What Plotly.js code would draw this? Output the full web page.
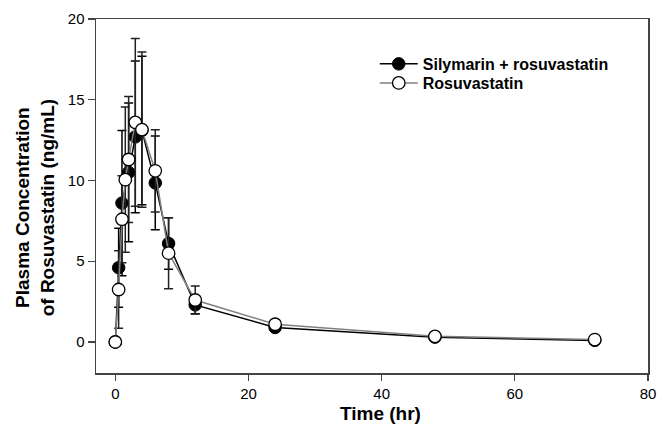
<!DOCTYPE html>
<html>
<head>
<meta charset="utf-8">
<script src="https://cdn.plot.ly/plotly-3.0.1.min.js"></script>
<style>html,body{margin:0;padding:0;background:#fff;}#chart{width:657px;height:424px;}</style>
</head>
<body>
<div id="chart"></div>
<script>
// Silymarin + rosuvastatin (filled circles)
const timeSR = [0, 0.5, 1, 2, 3, 4, 6, 8, 12, 24, 48, 72];
const concSR = [0, 4.6, 8.6, 10.5, 12.7, 13.1, 9.85, 6.1, 2.3, 0.9, 0.3, 0.1];
const sdSR   = [0, 2.45, 4.5, 4.3, 4.7, 4.6, 2.9, 1.6, 0.55, 0.15, 0.1, 0.05];
// Rosuvastatin alone (open circles)
const timeR = [0, 0.5, 1, 1.5, 2, 3, 4, 6, 8, 12, 24, 48, 72];
const concR = [0, 3.25, 7.6, 10.05, 11.3, 13.6, 13.15, 10.6, 5.5, 2.6, 1.1, 0.35, 0.15];
const sdR   = [0, 2.4, 2.7, 4.5, 3.9, 5.2, 4.8, 2.55, 2.2, 0.86, 0.2, 0.1, 0.05];

const seriesNames = ['Silymarin + rosuvastatin', 'Rosuvastatin'];
const xTicks = [0, 20, 40, 60, 80];
const yTicks = [0, 5, 10, 15, 20];

const FONT = '"Liberation Sans", Arial, sans-serif';
const legendFont = {family: FONT, size: 16, color: '#000', weight: 'bold'};

const traces = [
  {
    x: timeSR, y: concSR, name: seriesNames[0], type: 'scatter', mode: 'lines+markers',
    legend: 'legend',
    line: {color: '#000', width: 1.5},
    marker: {symbol: 'circle', size: 12.5, color: '#000', line: {color: '#000', width: 1}},
    error_y: {type: 'data', array: sdSR, visible: true, color: '#000', thickness: 1.5, width: 4.5}
  },
  {
    x: timeR, y: concR, name: seriesNames[1], type: 'scatter', mode: 'lines+markers',
    legend: 'legend2',
    line: {color: '#808080', width: 1.5},
    marker: {symbol: 'circle', size: 12.5, color: '#fff', line: {color: '#000', width: 1.3}},
    error_y: {type: 'data', array: sdR, visible: true, color: '#222', thickness: 1.5, width: 4.5}
  }
];

const layout = {
  width: 657, height: 424,
  margin: {l: 96, r: 9, t: 19, b: 51, pad: 0},
  paper_bgcolor: '#fff', plot_bgcolor: '#fff',
  font: {family: FONT, size: 15, color: '#000'},
  showlegend: true,
  legend: {
    x: 0.505, y: 0.873, xanchor: 'left', yanchor: 'middle',
    bgcolor: 'rgba(0,0,0,0)', borderwidth: 0, itemwidth: 38,
    font: legendFont
  },
  legend2: {
    x: 0.505, y: 0.819, xanchor: 'left', yanchor: 'middle',
    bgcolor: 'rgba(0,0,0,0)', borderwidth: 0, itemwidth: 38,
    font: legendFont
  },
  xaxis: {
    range: [-2.9, 80], tickvals: xTicks, ticktext: xTicks.map(String),
    showgrid: false, zeroline: false,
    showline: true, linecolor: '#444', linewidth: 1.5, mirror: true,
    ticks: 'outside', ticklen: 6, tickwidth: 1.2, tickcolor: '#444',
    tickfont: {family: FONT, size: 15, color: '#000'}
  },
  yaxis: {
    range: [-1.92, 20], tickvals: yTicks, ticktext: yTicks.map(String),
    showgrid: false, zeroline: false,
    showline: true, linecolor: '#444', linewidth: 1.5, mirror: true,
    ticks: 'outside', ticklen: 7, tickwidth: 1.2, tickcolor: '#444',
    tickfont: {family: FONT, size: 15, color: '#000'}
  },
  annotations: [
    {
      text: 'Time (hr)', xref: 'paper', yref: 'paper', x: 0.516, y: -0.113,
      xanchor: 'center', yanchor: 'middle', showarrow: false,
      font: {family: FONT, size: 19, color: '#000', weight: 'bold'}
    },
    {
      text: 'Plasma Concentration<br>of Rosuvastatin (ng/mL)', xref: 'paper', yref: 'paper',
      x: -0.11, y: 0.466, xanchor: 'center', yanchor: 'middle', showarrow: false,
      textangle: -90,
      font: {family: FONT, size: 19, color: '#000', weight: 'bold'}
    }
  ]
};

Plotly.newPlot('chart', traces, layout, {staticPlot: true, displayModeBar: false});
</script>
</body>
</html>
